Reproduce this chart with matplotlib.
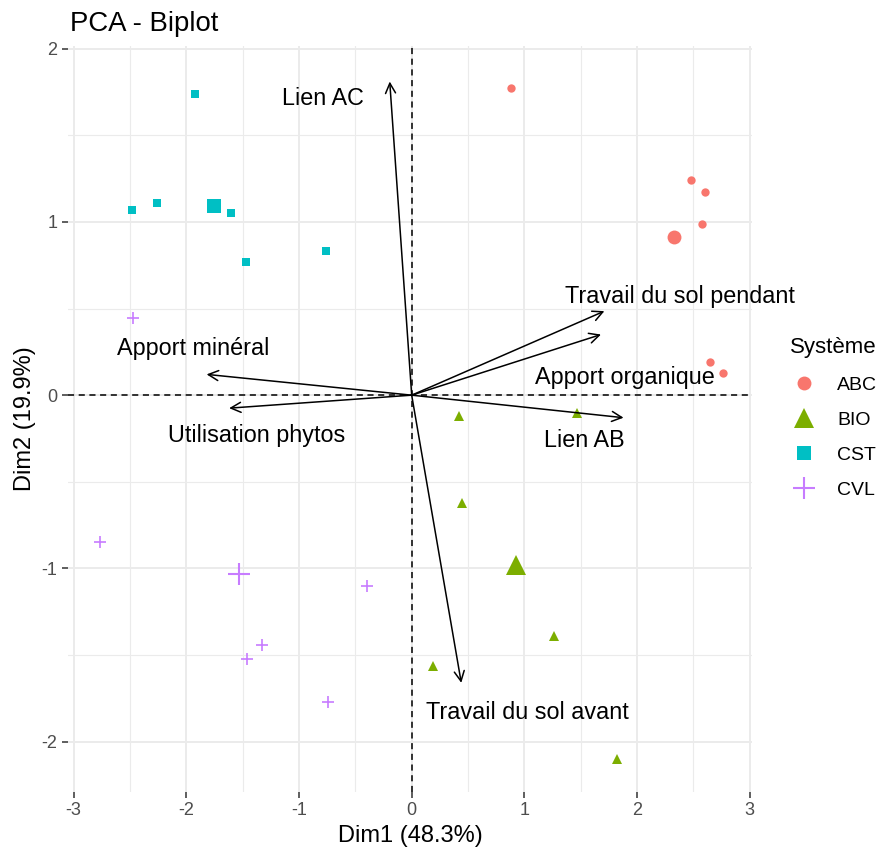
import matplotlib
matplotlib.use('Agg')
import matplotlib.pyplot as plt
from matplotlib.lines import Line2D

plt.rcParams['font.family'] = ['Liberation Sans', 'DejaVu Sans']
plt.rcParams['axes.unicode_minus'] = False

# individuals (Dim1, Dim2) by system
groups = ['ABC', 'BIO', 'CST', 'CVL']
colors = ['#F8766D', '#7CAE00', '#00BFC4', '#C77CFF']
markers = ['o', '^', 's', '+']

abc_x = [0.88, 2.48, 2.60, 2.58, 2.65, 2.76]
abc_y = [1.77, 1.24, 1.17, 0.99, 0.19, 0.13]
bio_x = [0.42, 1.47, 0.45, 1.26, 1.82, 0.19]
bio_y = [-0.12, -0.10, -0.62, -1.39, -2.10, -1.56]
cst_x = [-1.92, -2.48, -2.26, -1.60, -1.47, -0.76]
cst_y = [1.74, 1.07, 1.11, 1.05, 0.77, 0.83]
cvl_x = [-2.47, -2.77, -0.40, -1.33, -1.46, -0.74]
cvl_y = [0.445, -0.85, -1.10, -1.44, -1.52, -1.77]

# group centroids (bigger markers)
cent_x = [2.33, 0.93, -1.75, -1.53]
cent_y = [0.91, -0.98, 1.09, -1.03]

# variable arrows and label positions
var_names = ['Lien AC', 'Travail du sol pendant', 'Apport organique', 'Lien AB',
             'Travail du sol avant', 'Apport minéral', 'Utilisation phytos']
var_x = [-0.195, 1.71, 1.68, 1.88, 0.44, -1.82, -1.62]
var_y = [1.81, 0.485, 0.35, -0.13, -1.66, 0.12, -0.075]
lab_x = [-0.79, 2.38, 1.89, 1.53, 1.03, -1.94, -1.38]
lab_y = [1.71, 0.57, 0.10, -0.26, -1.83, 0.27, -0.23]

fig = plt.figure(figsize=(8.8, 8.55), dpi=100)
ax = fig.add_axes([68/880, 63/855, 684/880, 746/855])

pts = [(abc_x, abc_y), (bio_x, bio_y), (cst_x, cst_y), (cvl_x, cvl_y)]
small = {'o': 6, '^': 7, 's': 6, '+': 9}
big = {'o': 10, '^': 14, 's': 10, '+': 16}
for i, (xs, ys) in enumerate(pts):
    m = markers[i]
    ax.plot(xs, ys, ls='none', marker=m, color=colors[i], ms=small[m],
            mew=1.2 if m == '+' else 0, zorder=3)
    ax.plot(cent_x[i], cent_y[i], ls='none', marker=m, color=colors[i], ms=big[m],
            mew=1.5 if m == '+' else 0, zorder=3)

ax.axhline(0, ls=(0, (4, 3)), color='black', lw=1.1, zorder=2)
ax.axvline(0, ls=(0, (4, 3)), color='black', lw=1.1, zorder=2)

for name, vx, vy, lx, ly in zip(var_names, var_x, var_y, lab_x, lab_y):
    ax.annotate('', xy=(vx, vy), xytext=(0, 0),
                arrowprops=dict(arrowstyle='->', lw=1.1, color='black',
                                mutation_scale=18, shrinkA=0, shrinkB=0), zorder=4)
    ax.text(lx, ly, name, ha='center', va='center', fontsize=16.8, color='black', zorder=5)

ax.set_xlim(-3.05, 3.02)
ax.set_ylim(-2.29, 2.015)
ax.set_xticks([-3, -2, -1, 0, 1, 2, 3])
ax.set_yticks([-2, -1, 0, 1, 2])
ax.set_xticks([-2.5, -1.5, -0.5, 0.5, 1.5, 2.5], minor=True)
ax.set_yticks([-1.5, -0.5, 0.5, 1.5], minor=True)
ax.grid(True, which='major', color='#EBEBEB', lw=1.4, zorder=0)
ax.grid(True, which='minor', color='#EBEBEB', lw=0.8, zorder=0)
ax.set_axisbelow(True)
for s in ax.spines.values():
    s.set_visible(False)
ax.tick_params(which='major', length=4, width=1.1, color='#333333',
               labelcolor='#4D4D4D', labelsize=13)
ax.tick_params(which='minor', length=0)

ax.set_xlabel('Dim1 (48.3%)', fontsize=17, labelpad=4)
ax.set_ylabel('Dim2 (19.9%)', fontsize=17, labelpad=4)
fig.text(70/880, 1 - 24/855, 'PCA - Biplot', fontsize=19.8, ha='left', va='center')

handles = []
for i, g in enumerate(groups):
    m = markers[i]
    handles.append(Line2D([], [], ls='none', marker=m, color=colors[i], ms=big[m],
                          mew=1.5 if m == '+' else 0, label=g))
leg = fig.legend(handles=handles, title='Système', loc='upper left',
                 bbox_to_anchor=(772/880, 1 - 320/855), frameon=False,
                 fontsize=14, title_fontsize=16, labelspacing=0.9,
                 handletextpad=0.95, handlelength=1.5)
leg._legend_box.align = 'left'

fig.savefig('out.png', dpi=100)
